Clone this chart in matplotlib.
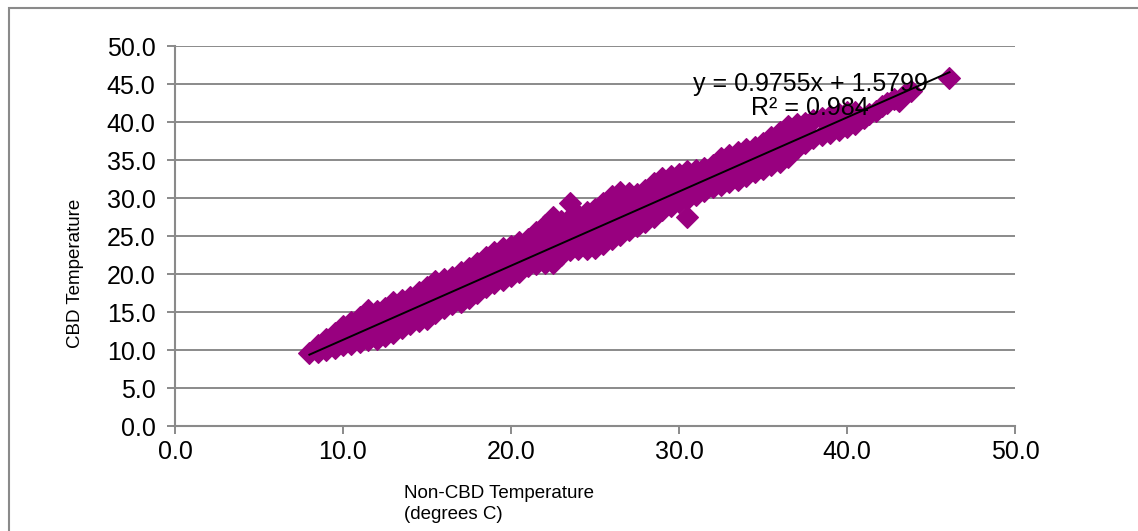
import numpy as np
import matplotlib
matplotlib.use("Agg")
import matplotlib.pyplot as plt
from matplotlib.patches import Rectangle

# values: (Non-CBD temp, CBD temp) pairs
non_cbd_temp = [
    8.0,
    8.5, 8.5, 9.0, 9.0, 9.5, 9.5,
    10.0, 10.0, 10.0, 10.5, 10.5, 10.5, 11.0, 11.0, 11.0, 11.5, 11.5, 11.5,
    12.0, 12.0, 12.0, 12.5, 12.5, 12.5, 13.0, 13.0, 13.0, 13.5, 13.5, 13.5,
    14.0, 14.0, 14.0, 14.5, 14.5, 14.5, 15.0, 15.0, 15.0, 15.5, 15.5, 15.5,
    16.0, 16.0, 16.0, 16.5, 16.5, 16.5, 17.0, 17.0, 17.0, 17.5, 17.5, 17.5,
    18.0, 18.0, 18.0, 18.5, 18.5, 18.5, 19.0, 19.0, 19.0, 19.5, 19.5, 19.5,
    20.0, 20.0, 20.0, 20.5, 20.5, 20.5, 21.0, 21.0, 21.0, 21.5, 21.5, 21.5,
    22.0, 22.0, 22.0, 22.0, 22.5, 22.5, 22.5, 22.5, 23.0, 23.0, 23.0, 23.0,
    23.5, 23.5, 23.5, 23.5, 24.0, 24.0, 24.0, 24.0, 24.5, 24.5, 24.5, 24.5,
    25.0, 25.0, 25.0, 25.0, 25.5, 25.5, 25.5, 25.5, 26.0, 26.0, 26.0, 26.0,
    26.5, 26.5, 26.5, 26.5, 27.0, 27.0, 27.0, 27.0, 27.5, 27.5, 27.5,
    28.0, 28.0, 28.0, 28.5, 28.5, 28.5, 29.0, 29.0, 29.0, 29.5, 29.5, 29.5,
    30.0, 30.0, 30.0, 30.5, 30.5, 30.5, 30.5, 31.0, 31.0, 31.0, 31.5, 31.5, 31.5,
    32.0, 32.0, 32.0, 32.5, 32.5, 32.5, 33.0, 33.0, 33.0, 33.5, 33.5, 33.5,
    34.0, 34.0, 34.0, 34.5, 34.5, 34.5, 35.0, 35.0, 35.0, 35.5, 35.5, 35.5,
    36.0, 36.0, 36.0, 36.5, 36.5, 36.5, 37.0, 37.0, 37.0, 37.5, 37.5, 37.5,
    38.0, 38.0, 38.5, 38.5, 39.0, 39.0, 39.5, 39.5, 40.0, 40.0, 40.5, 40.5,
    41.0, 41.3, 41.7, 42.1, 42.4, 42.8, 43.1, 43.4, 43.8, 46.1,
]
cbd_temp = [
    9.6,
    9.8, 10.7, 10.0, 11.4, 10.3, 12.2,
    10.6, 11.9, 13.1, 10.8, 12.2, 13.7, 11.0, 12.6, 14.3, 11.3, 13.3, 15.3,
    11.5, 13.3, 15.1, 11.9, 13.7, 15.5, 12.3, 14.3, 16.3, 12.9, 14.7, 16.6,
    13.4, 15.2, 17.0, 13.8, 15.7, 17.6, 14.1, 16.2, 18.3, 14.9, 17.0, 19.1,
    15.5, 17.4, 19.3, 16.0, 17.8, 19.6, 16.3, 18.3, 20.3, 16.9, 18.8, 20.8,
    17.5, 19.4, 21.4, 18.3, 20.2, 22.2, 18.8, 20.8, 22.9, 19.2, 21.3, 23.4,
    19.7, 21.7, 23.7, 20.3, 22.2, 24.2, 21.0, 22.8, 24.6, 21.3, 23.4, 25.5,
    21.4, 23.0, 24.7, 26.4, 21.4, 23.4, 25.5, 27.5, 22.5, 24.0, 25.5, 27.0,
    23.2, 25.3, 27.4, 29.4, 23.3, 24.8, 26.3, 27.8, 23.3, 25.0, 26.6, 28.2,
    23.4, 25.1, 26.9, 28.6, 24.0, 25.8, 27.5, 29.3, 24.6, 26.5, 28.4, 30.3,
    25.1, 27.0, 28.9, 30.8, 25.8, 27.4, 29.0, 30.6, 26.3, 28.4, 30.5,
    26.9, 29.0, 31.0, 27.5, 29.8, 32.0, 28.4, 30.5, 32.6, 29.0, 31.0, 32.9,
    29.5, 31.4, 33.2, 27.5, 29.9, 31.7, 33.5, 30.4, 32.0, 33.7, 30.9, 32.4, 34.0,
    31.4, 32.9, 34.4, 31.7, 33.5, 35.2, 32.1, 33.9, 35.7, 32.4, 34.3, 36.1,
    32.9, 34.7, 36.4, 33.4, 35.0, 36.7, 33.8, 35.5, 37.2, 34.3, 36.2, 38.0,
    34.8, 36.8, 38.7, 35.4, 37.5, 39.5, 36.6, 38.2, 39.8, 37.3, 38.6, 39.9,
    37.9, 40.2, 38.3, 40.5, 38.6, 40.8, 39.0, 41.1, 39.4, 41.3, 39.8, 41.3,
    40.5, 41.0, 41.5, 42.1, 42.5, 43.0, 42.7, 43.5, 44.1, 45.8,
]

# linear trendline as reported on the chart
slope = 0.9755
intercept = 1.5799
r_squared = 0.984

x_ticks = [0, 10, 20, 30, 40, 50]
y_ticks = [0, 5, 10, 15, 20, 25, 30, 35, 40, 45, 50]

PURPLE = "#98007f"
GRAY = "#8a8a8a"

plt.rcParams['font.family'] = ['Liberation Sans', 'DejaVu Sans']

fig = plt.figure(figsize=(11.38, 5.31), dpi=100)
ax = fig.add_axes([175 / 1138, 1 - 426 / 531, 840 / 1138, 380 / 531])

ax.plot(non_cbd_temp, cbd_temp, linestyle="none", marker="D", ms=11,
        color=PURPLE, mec=PURPLE, mew=0.8, zorder=3)

xs = np.array([min(non_cbd_temp), max(non_cbd_temp)])
ax.plot(xs, slope * xs + intercept, color="black", lw=1.4, zorder=4)

ax.text(37.8, 43.4, f"y = {slope}x + {intercept}\nR\u00b2 = {r_squared}",
        ha="center", va="center", fontsize=18, linespacing=1.0, zorder=5)

ax.set_xlim(0, 50)
ax.set_ylim(0, 50)
ax.set_xticks(x_ticks)
ax.set_yticks(y_ticks)
ax.set_xticklabels([f"{v:.1f}" for v in x_ticks])
ax.set_yticklabels([f"{v:.1f}" for v in y_ticks])

ax.yaxis.grid(True, color=GRAY, lw=1.4)
ax.set_axisbelow(True)
for side in ["top", "right"]:
    ax.spines[side].set_visible(False)
for side in ["left", "bottom"]:
    ax.spines[side].set_color(GRAY)
    ax.spines[side].set_linewidth(1.5)
ax.tick_params(direction="out", length=6, width=1.4, color=GRAY, labelsize=18)
ax.tick_params(axis="y", pad=8)
ax.tick_params(axis="x", pad=4)

fig.text(75 / 1138, 1 - 273 / 531, "CBD Temperature", rotation=90,
         ha="center", va="center", fontsize=13.5)
fig.text(404 / 1138, 1 - 504 / 531, "Non-CBD Temperature\n(degrees C)",
         ha="left", va="center", fontsize=13.5, linespacing=1.25)

# chart-area border, cut off at the right and bottom like the original
fig.add_artist(Rectangle((9 / 1138, -0.5), 2, 0.5 + 1 - 8 / 531, transform=fig.transFigure,
                         fill=False, edgecolor=GRAY, lw=1.5, clip_on=False))

fig.savefig("out.png", dpi=100)
plt.close()
